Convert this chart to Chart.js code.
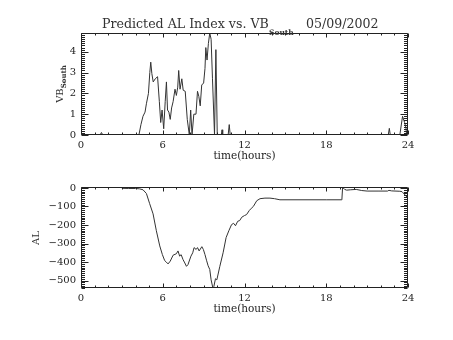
<!DOCTYPE html>
<html><head><meta charset="utf-8">
<script src="https://cdn.jsdelivr.net/npm/chart.js@4.4.1/dist/chart.umd.min.js"></script>
<style>
html,body{margin:0;padding:0;background:#fff;}
#wrap{position:relative;width:453px;height:340px;overflow:hidden;background:#fff;}
canvas{position:absolute;left:0;}
.t{position:absolute;font-family:"DejaVu Serif",serif;color:#333;white-space:nowrap;line-height:1;}
.rot{transform:translate(-50%,-50%) rotate(-90deg);}
</style></head><body>
<div id="wrap">
<canvas id="c1" width="453" height="170" style="top:0"></canvas>
<canvas id="c2" width="453" height="170" style="top:170px"></canvas>
<div class="t" style="left:102px;top:18px;font-size:12.6px;">Predicted AL Index vs. VB</div>
<div class="t" style="left:269px;top:29px;font-size:7.5px;font-weight:bold;">South</div>
<div class="t" style="left:306px;top:18px;font-size:12.6px;">05/09/2002</div>
<div class="t rot" style="left:61px;top:84px;font-size:10px;">VB<sub style="font-size:7px;font-weight:bold;">South</sub></div>
<div class="t rot" style="left:36px;top:238px;font-size:10px;">AL</div>
</div>
<script>
// ---- Data ----
const vbHours = [0,1.4,1.5,1.6,4.25,4.4,4.55,4.7,4.8,4.95,5.05,5.12,5.2,5.3,5.45,5.62,5.75,5.85,5.95,6.07,6.18,6.27,6.35,6.45,6.55,6.65,6.76,6.9,7.0,7.1,7.17,7.27,7.4,7.5,7.65,7.8,7.95,8.05,8.15,8.28,8.44,8.55,8.65,8.75,8.86,9.0,9.1,9.16,9.25,9.35,9.45,9.55,9.65,9.8,9.9,10.0,10.3,10.35,10.4,10.8,10.88,10.95,22.55,22.63,22.7,23.4,23.6,23.75,23.85,23.9,24];
const vbSouth = [0,0,0.12,0,0,0.5,0.9,1.1,1.5,2.0,3.0,3.5,2.95,2.55,2.7,2.8,1.6,0.6,1.2,0.3,1.6,2.55,1.2,1.1,0.75,1.3,1.6,2.2,1.9,2.3,3.1,2.2,2.7,2.15,2.1,0.75,0,1.2,0,1.0,1.0,2.1,1.85,1.4,2.4,2.5,3.2,4.2,3.6,4.4,4.9,4.6,2.7,0,4.1,0,0,0.25,0,0,0.5,0,0,0.32,0,0,0.9,0.6,0.35,0,0];

const alHours = [3.0,3.5,4.0,4.3,4.55,4.8,5.04,5.29,5.53,5.78,5.97,6.14,6.26,6.39,6.55,6.76,7.0,7.12,7.24,7.35,7.49,7.62,7.74,7.85,8.07,8.2,8.3,8.45,8.55,8.67,8.87,8.98,9.1,9.21,9.33,9.45,9.55,9.68,9.75,9.87,9.97,10.19,10.43,10.65,10.85,11.05,11.2,11.34,11.5,11.65,11.8,12.0,12.15,12.35,12.5,12.65,12.9,13.14,13.5,13.87,14.2,14.6,16,18,19.1,19.15,19.2,19.35,19.5,19.8,20.2,20.6,21.0,21.8,22.5,22.6,22.8,23.4,23.56,23.8,24.0];
const alIndex = [-2,-3,-3,-5,-10,-30,-85,-140,-231,-313,-359,-392,-400,-410,-395,-363,-355,-340,-368,-360,-387,-405,-423,-414,-368,-350,-322,-332,-322,-340,-317,-332,-360,-390,-420,-440,-496,-540,-532,-490,-496,-423,-350,-268,-231,-198,-191,-204,-180,-176,-158,-149,-144,-122,-110,-100,-69,-58,-55,-55,-58,-64,-64,-64,-64,-60,3,-8,-12,-10,-8,-14,-17,-17,-17,-13,-16,-18,-20,-39,-56];

const xTickLabels = [0,6,12,18,24];
const vbTicks = [0,1,2,3,4];
const alTicks = [0,-100,-200,-300,-400,-500];

// ---- Styling / helpers ----
const FONT = {family:'"DejaVu Serif", serif', size:10};
const TFONT = {family:'"DejaVu Serif", serif', size:10.5};
const INK = '#222';

const framePlugin = {
  id:'frame',
  afterDatasetsDraw(chart, args, o){
    const {ctx, chartArea:a, scales:{x,y}} = chart;
    const L=Math.round(a.left)+0.5, R=Math.round(a.right)-0.5, T=Math.round(a.top)+0.5, B=Math.round(a.bottom)-0.5;
    ctx.save();
    ctx.strokeStyle=INK; ctx.lineWidth=1;
    ctx.beginPath();
    ctx.rect(L,T,R-L,B-T);
    const nx = Math.round((o.xMax-o.xMin)/o.xMinor);
    for(let i=0;i<=nx;i++){
      const v=o.xMin+i*o.xMinor;
      const px=Math.round(x.getPixelForValue(v))+0.5;
      const major = Math.abs(v/o.xMajor-Math.round(v/o.xMajor))<1e-6;
      const len = major?4:2;
      ctx.moveTo(px,B); ctx.lineTo(px,B-len);
      ctx.moveTo(px,T); ctx.lineTo(px,T+len);
    }
    const start=Math.ceil(y.min/o.yMinor-1e-6), end=Math.floor(y.max/o.yMinor+1e-6);
    for(let k=start;k<=end;k++){
      const v=k*o.yMinor;
      const py=Math.round(y.getPixelForValue(v))+0.5;
      const major = Math.abs(v/o.yMajor-Math.round(v/o.yMajor))<1e-6;
      const len = major?7:3.5;
      ctx.moveTo(L,py); ctx.lineTo(L+len,py);
      ctx.moveTo(R,py); ctx.lineTo(R-len,py);
    }
    ctx.stroke();
    ctx.restore();
  }
};

function makeChart(id, hours, values, yMin, yMax, yTicks, yMinor, yMajor, pad){
  return new Chart(document.getElementById(id), {
    type:'line',
    data:{datasets:[{
      data: hours.map((h,i)=>({x:h,y:values[i]})),
      borderColor:'#333', borderWidth:1, pointRadius:0, tension:0, fill:false
    }]},
    options:{
      responsive:false, animation:false, devicePixelRatio:1,
      layout:{padding:pad},
      plugins:{legend:{display:false}, tooltip:{enabled:false},
        frame:{xMin:0,xMax:24,xMinor:1,xMajor:6,yMinor:yMinor,yMajor:yMajor}},
      scales:{
        x:{type:'linear', min:0, max:24,
          afterBuildTicks:s=>{s.ticks = xTickLabels.map(v=>({value:v}));},
          afterFit:s=>{s.height=30;},
          grid:{display:false, drawTicks:false}, border:{display:false},
          ticks:{font:FONT, color:INK, padding:4, maxRotation:0, autoSkip:false},
          title:{display:true, text:'time(hours)', font:TFONT, color:INK, padding:{top:0,bottom:2}}
        },
        y:{type:'linear', min:yMin, max:yMax,
          afterBuildTicks:s=>{s.ticks = yTicks.map(v=>({value:v}));},
          afterFit:s=>{s.width=50;},
          grid:{display:false, drawTicks:false}, border:{display:false},
          ticks:{font:FONT, color:INK, padding:5, autoSkip:false,
            callback:v=>String(v).replace('-','\u2212')}
        }
      }
    },
    plugins:[framePlugin]
  });
}

makeChart('c1', vbHours, vbSouth, 0, 4.9, vbTicks, 0.1, 1, {left:31,right:45,top:33,bottom:5});
makeChart('c2', alHours, alIndex, -540, 5, alTicks, 10, 100, {left:31,right:45,top:17,bottom:22});
</script>
</body></html>
